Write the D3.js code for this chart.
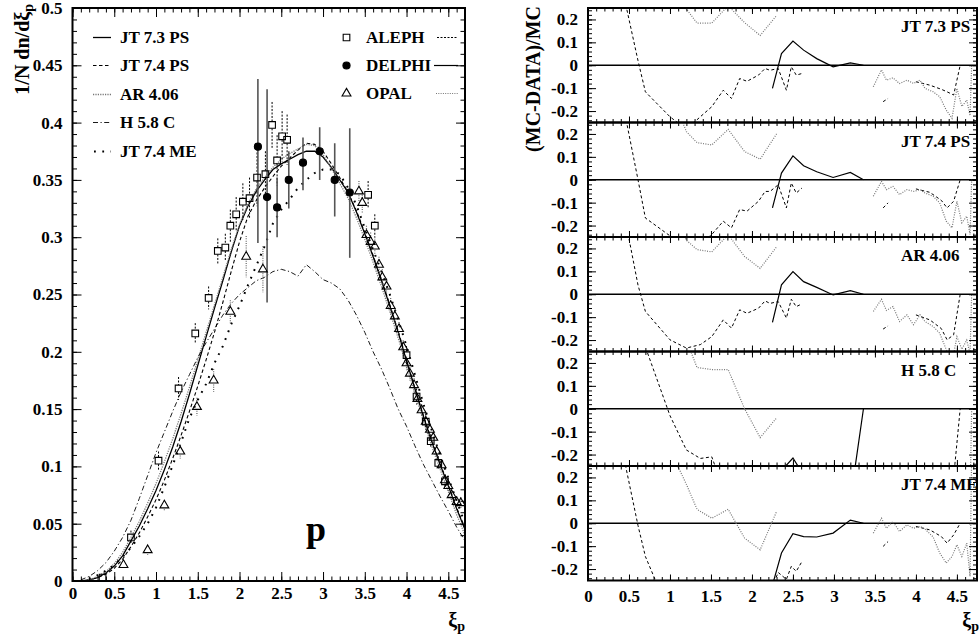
<!DOCTYPE html>
<html><head><meta charset="utf-8">
<script src="https://cdn.jsdelivr.net/npm/d3@7"></script>
<style>
body{margin:0;background:#fff;}
svg text{font-family:"Liberation Serif","Times New Roman",serif;font-weight:bold;fill:#000;}
</style></head><body>
<svg id="c" width="979" height="638"></svg>
<script>
// ---------- LEFT PANEL DATA ----------
const curveXi = [0.1,0.2,0.3,0.4,0.5,0.6,0.7,0.8,0.9,1.0,1.1,1.2,1.3,1.4,1.5,1.6,1.7,1.8,1.9,2.0,2.1,2.2,2.3,2.4,2.5,2.6,2.7,2.8,2.9,3.0,3.1,3.2,3.3,3.4,3.5,3.6,3.7,3.8,3.9,4.0,4.1,4.2,4.3,4.4,4.5,4.6,4.7];
const jt73 = [0,0.001,0.003,0.007,0.013,0.022,0.035,0.048,0.063,0.079,0.097,0.117,0.139,0.163,0.188,0.213,0.238,0.262,0.287,0.31,0.327,0.34,0.35,0.359,0.364,0.368,0.372,0.375,0.375,0.37,0.361,0.35,0.339,0.322,0.303,0.283,0.262,0.24,0.217,0.192,0.168,0.144,0.122,0.102,0.083,0.063,0.045];
const jt74 = [0,0.001,0.003,0.006,0.011,0.019,0.03,0.042,0.056,0.071,0.088,0.107,0.127,0.148,0.17,0.193,0.217,0.243,0.27,0.296,0.318,0.332,0.343,0.353,0.362,0.369,0.376,0.382,0.381,0.375,0.364,0.352,0.339,0.323,0.304,0.284,0.263,0.241,0.218,0.193,0.168,0.145,0.123,0.103,0.084,0.064,0.046];
const ar406 = [0,0.001,0.004,0.008,0.015,0.025,0.038,0.052,0.068,0.085,0.104,0.124,0.146,0.169,0.193,0.217,0.241,0.265,0.289,0.311,0.329,0.342,0.352,0.361,0.368,0.373,0.377,0.381,0.38,0.372,0.36,0.347,0.334,0.317,0.298,0.278,0.257,0.235,0.212,0.188,0.164,0.14,0.118,0.098,0.078,0.058,0.04];
const h58 = [0.001,0.004,0.009,0.016,0.026,0.038,0.053,0.072,0.092,0.112,0.13,0.148,0.165,0.18,0.195,0.208,0.22,0.232,0.242,0.25,0.256,0.262,0.265,0.27,0.272,0.27,0.266,0.276,0.27,0.263,0.26,0.255,0.245,0.232,0.217,0.2,0.185,0.168,0.15,0.135,0.118,0.102,0.088,0.074,0.061,0.047,0.035];
const jt74me = [0,0.002,0.005,0.009,0.014,0.021,0.029,0.039,0.05,0.064,0.082,0.101,0.121,0.142,0.158,0.172,0.19,0.205,0.224,0.24,0.258,0.275,0.292,0.312,0.324,0.333,0.343,0.35,0.356,0.359,0.359,0.355,0.343,0.328,0.308,0.289,0.27,0.25,0.228,0.205,0.18,0.155,0.132,0.11,0.09,0.07,0.05];

const alephXi  = [0.36,0.70,1.03,1.27,1.47,1.63,1.74,1.83,1.89,1.96,2.04,2.12,2.21,2.31,2.39,2.45,2.51,2.57,3.54,3.62,4.0,4.12,4.23,4.29,4.38,4.46];
const alephVal = [0.003,0.038,0.105,0.168,0.216,0.247,0.288,0.291,0.31,0.32,0.331,0.334,0.352,0.355,0.398,0.367,0.388,0.385,0.337,0.31,0.197,0.161,0.139,0.122,0.103,0.087];
const alephErr = [0.003,0.006,0.008,0.01,0.009,0.01,0.011,0.012,0.014,0.015,0.016,0.018,0.025,0.02,0.02,0.022,0.022,0.022,0.012,0.01,0.008,0.007,0.007,0.006,0.006,0.006];

const delphiXi  = [2.22,2.33,2.45,2.59,2.76,2.96,3.14,3.32];
const delphiVal = [0.379,0.335,0.326,0.35,0.365,0.375,0.35,0.339];
const delphiLo  = [0.295,0.243,0.30,0.325,0.341,0.35,0.318,0.282];
const delphiHi  = [0.438,0.429,0.352,0.375,0.387,0.396,0.382,0.395];

const opalXi  = [0.61,0.90,1.10,1.29,1.49,1.69,1.89,2.08,2.28,3.43,3.47,3.52,3.57,3.62,3.67,3.71,3.76,3.81,3.86,3.91,3.96,4.0,4.04,4.09,4.13,4.18,4.23,4.28,4.32,4.36,4.42,4.46,4.5,4.54,4.6,4.65];
const opalVal = [0.014,0.027,0.066,0.113,0.152,0.175,0.235,0.283,0.272,0.34,0.33,0.302,0.296,0.292,0.276,0.265,0.257,0.24,0.231,0.22,0.204,0.19,0.181,0.171,0.159,0.149,0.139,0.132,0.125,0.113,0.101,0.088,0.083,0.075,0.069,0.068];
const opalErr = [0.003,0.004,0.005,0.006,0.008,0.01,0.01,0.018,0.02,0.009,0.009,0.008,0.008,0.008,0.007,0.007,0.007,0.007,0.007,0.006,0.006,0.006,0.006,0.006,0.005,0.005,0.005,0.005,0.005,0.005,0.005,0.005,0.005,0.005,0.005,0.005];

const yTicksLeft = [0,0.05,0.1,0.15,0.2,0.25,0.3,0.35,0.4,0.45,0.5];
const yTickLabelsLeft = ["0","0.05","0.1","0.15","0.2","0.25","0.3","0.35","0.4","0.45","0.5"];
const xTicks = [0,0.5,1,1.5,2,2.5,3,3.5,4,4.5];
const xTickLabels = ["0","0.5","1","1.5","2","2.5","3","3.5","4","4.5"];
const mcNames = ["JT 7.3 PS","JT 7.4 PS","AR 4.06","H 5.8 C","JT 7.4 ME"];
const expNames = ["ALEPH","DELPHI","OPAL"];

// ---------- RIGHT PANEL DATA (MC-DATA)/MC ----------
const rAlephXi = [0.36,0.61,0.70,1.0,1.2,1.37,1.51,1.65,1.75,1.85,1.94,2.08,2.16,2.22,2.32,2.42,2.48,2.54,2.61,3.1,3.6,3.66,3.8,4.0,4.17,4.31,4.38,4.46,4.54];
const rAleph = [
 [0.43,0.02,-0.116,-0.225,-0.28,-0.225,-0.181,-0.109,-0.145,-0.058,-0.07,-0.043,-0.014,-0.022,-0.014,-0.109,-0.007,-0.043,-0.036,null,-0.159,-0.145,null,-0.072,-0.087,-0.105,-0.116,-0.13,0],
 [0.45,0,-0.167,-0.245,-0.3,-0.28,-0.239,-0.181,-0.21,-0.13,-0.137,-0.094,-0.051,-0.051,-0.022,-0.123,-0.014,-0.058,-0.036,null,-0.123,-0.101,null,-0.04,-0.055,-0.09,-0.123,-0.094,0],
 [0.5,0.04,-0.075,-0.199,-0.235,-0.22,-0.185,-0.112,-0.148,-0.068,-0.083,-0.061,-0.029,-0.04,-0.032,-0.104,-0.022,-0.054,-0.042,null,-0.152,-0.138,null,-0.09,-0.112,-0.15,-0.199,-0.177,0],
 [1.0,0.5,0.27,-0.03,-0.18,-0.217,-0.21,-0.35,-0.4,-0.4,-0.4,-0.4,-0.4,-0.4,-0.4,-0.4,-0.4,-0.4,-0.4,null,-0.4,-0.4,null,-0.35,-0.35,-0.35,-0.32,-0.3,0],
 [0.42,-0.01,-0.145,-0.4,-0.4,-0.4,-0.4,-0.4,-0.4,-0.4,-0.4,-0.4,-0.4,-0.3,-0.215,-0.245,-0.188,-0.21,-0.167,null,-0.101,-0.08,null,-0.014,-0.029,-0.058,-0.087,-0.051,0]
];
const rDelphiXi = [2.25,2.36,2.5,2.63,2.79,2.99,3.2,3.36];
const rDelphi = [
 [-0.101,0.051,0.106,0.066,0.029,-0.007,0.01,0],
 [-0.123,0.029,0.104,0.061,0.035,0.01,0.032,0],
 [-0.123,0.041,0.099,0.055,0.03,-0.003,0.016,0],
 [-0.4,-0.27,-0.215,-0.29,-0.35,-0.4,-0.4,0],
 [-0.27,-0.13,-0.046,-0.058,-0.06,-0.043,0.014,0]
];
const rOpalXi = [0.9,1.1,1.2,1.33,1.51,1.71,1.91,2.1,2.3,2.9,3.48,3.58,3.64,3.72,3.8,3.89,3.97,4.05,4.11,4.21,4.29,4.37,4.44,4.5,4.56,4.62,4.66,4.68];
const rOpal = [
 [0.5,0.35,0.246,0.184,0.184,0.26,0.186,0.13,0.217,null,-0.094,-0.02,-0.065,-0.055,-0.08,-0.065,-0.079,-0.065,-0.101,-0.116,-0.137,-0.196,-0.232,-0.101,-0.18,-0.152,-0.22,0],
 [0.45,0.3,0.21,0.162,0.152,0.22,0.123,0.09,0.2,null,-0.072,-0.007,-0.043,-0.029,-0.065,-0.043,-0.051,-0.043,-0.058,-0.072,-0.101,-0.181,-0.21,-0.094,-0.188,-0.159,-0.239,0],
 [0.45,0.3,0.236,0.195,0.185,0.26,0.165,0.113,0.207,null,-0.075,-0.022,-0.071,-0.054,-0.119,-0.09,-0.133,-0.09,-0.119,-0.141,-0.17,-0.242,-0.3,-0.185,-0.24,-0.2,-0.26,0],
 [0.6,0.4,0.3,0.18,0.171,0.171,0.0,-0.126,-0.04,null,-0.4,-0.4,-0.4,-0.4,-0.4,-0.4,-0.4,-0.4,-0.4,-0.4,-0.4,-0.4,-0.4,-0.4,-0.4,-0.4,-0.4,0],
 [0.5,0.246,0.17,0.061,0.022,0.061,-0.065,-0.116,0.051,null,-0.043,0.022,-0.022,0.007,-0.036,-0.007,-0.022,-0.014,-0.025,-0.06,-0.13,-0.174,-0.145,-0.094,-0.145,-0.087,-0.232,0.3]
];
const rYTicks = [-0.2,-0.1,0,0.1,0.2];
const rYTickLabels = ["-0.2","-0.1","0","0.1","0.2"];

// ---------- DRAWING ----------
const svg = d3.select("#c");
const defs = svg.append("defs");

// styles
const curveStyles = [
  {data: jt73, dash: null, color: "#000", w: 1.3},
  {data: jt74, dash: "3.5,2.5", color: "#000", w: 1.1},
  {data: ar406, dash: "1.2,1.2", color: "#777", w: 1.3},
  {data: h58, dash: "5,2.5,1.2,2.5", color: "#000", w: 0.9},
  {data: jt74me, dash: "1.8,6.5", color: "#000", w: 2}
];

// LEFT
const L = {x0: 72.5, x1: 465, y0: 8, y1: 581};
const xL = d3.scaleLinear().domain([0, 4.7]).range([L.x0, L.x1]);
const yL = d3.scaleLinear().domain([0, 0.5]).range([L.y1, L.y0]);

defs.append("clipPath").attr("id","clipL").append("rect")
  .attr("x", L.x0).attr("y", L.y0).attr("width", L.x1-L.x0).attr("height", L.y1-L.y0);

const gL = svg.append("g");
const plotL = gL.append("g").attr("clip-path","url(#clipL)");

const lineL = d3.line().x(d => xL(d[0])).y(d => yL(d[1]));
curveStyles.forEach(s => {
  plotL.append("path")
    .attr("d", lineL(curveXi.map((x,i) => [x, s.data[i]])))
    .attr("fill","none").attr("stroke", s.color).attr("stroke-width", s.w)
    .attr("stroke-dasharray", s.dash);
});

// error bars & markers
function vbar(g, x, yv, lo, hi, gap, style) {
  const px = xL(x), py = yL(yv);
  const a = g.append("g").attr("stroke", style.color).attr("stroke-width", style.w)
    .attr("stroke-dasharray", style.dash);
  if (yL(hi) < py - gap) a.append("line").attr("x1",px).attr("x2",px).attr("y1",yL(hi)).attr("y2",py-gap);
  if (yL(lo) > py + gap) a.append("line").attr("x1",px).attr("x2",px).attr("y1",py+gap).attr("y2",yL(lo));
}
const barsG = plotL.append("g");
const markG = plotL.append("g");
opalXi.forEach((x,i) => vbar(barsG, x, opalVal[i], opalVal[i]-opalErr[i], opalVal[i]+opalErr[i], 4, {color:"#666", w:1.2, dash:"1,1.3"}));
alephXi.forEach((x,i) => vbar(barsG, x, alephVal[i], alephVal[i]-alephErr[i], alephVal[i]+alephErr[i], 3.5, {color:"#000", w:1, dash:"2,1.5"}));
delphiXi.forEach((x,i) => vbar(barsG, x, delphiVal[i], delphiLo[i], delphiHi[i], 3, {color:"#555", w:1.6, dash:null}));

const sq = d3.symbol().type(d3.symbolSquare).size(44);
const tri = d3.symbol().type(d3.symbolTriangle).size(34);
const circ = d3.symbol().type(d3.symbolCircle).size(40);
function marker(g, sym, x, y, filled) {
  g.append("path").attr("d", sym()).attr("transform", `translate(${x},${y})`)
    .attr("fill", filled ? "#000" : "#fff").attr("fill-opacity", filled ? 1 : 0)
    .attr("stroke","#000").attr("stroke-width",1.1);
}
alephXi.forEach((x,i) => marker(markG, sq, xL(x), yL(alephVal[i]), false));
opalXi.forEach((x,i) => marker(markG, tri, xL(x), yL(opalVal[i]), false));
delphiXi.forEach((x,i) => marker(markG, circ, xL(x), yL(delphiVal[i]), true));

// axes left
function noDomain(g){ g.select(".domain").remove(); }
const yMinorL = d3.range(0, 0.5001, 0.01);
const xMinor = d3.range(0, 4.701, 0.1);
gL.append("g").attr("transform",`translate(${L.x0},0)`)
  .call(d3.axisLeft(yL).tickValues(yMinorL).tickSize(-4.5).tickFormat(""))
  .call(noDomain);
gL.append("g").attr("transform",`translate(${L.x0},0)`)
  .call(d3.axisLeft(yL).tickValues(yTicksLeft).tickSize(-9).tickPadding(10)
        .tickFormat((d,i) => yTickLabelsLeft[i]))
  .call(noDomain)
  .call(g => g.selectAll("text").attr("font-size",17).attr("font-family",null));
gL.append("g").attr("transform",`translate(${L.x1},0)`)
  .call(d3.axisRight(yL).tickValues(yMinorL).tickSize(-4.5).tickFormat("")).call(noDomain);
gL.append("g").attr("transform",`translate(${L.x1},0)`)
  .call(d3.axisRight(yL).tickValues(yTicksLeft).tickSize(-9).tickFormat("")).call(noDomain);
gL.append("g").attr("transform",`translate(0,${L.y1})`)
  .call(d3.axisBottom(xL).tickValues(xMinor).tickSize(-4.5).tickFormat("")).call(noDomain);
gL.append("g").attr("transform",`translate(0,${L.y1})`)
  .call(d3.axisBottom(xL).tickValues(xTicks).tickSize(-9).tickPadding(6)
        .tickFormat((d,i) => xTickLabels[i]))
  .call(noDomain)
  .call(g => g.selectAll("text").attr("font-size",17).attr("font-family",null));
gL.append("g").attr("transform",`translate(0,${L.y0})`)
  .call(d3.axisTop(xL).tickValues(xMinor).tickSize(-4.5).tickFormat("")).call(noDomain);
gL.append("g").attr("transform",`translate(0,${L.y0})`)
  .call(d3.axisTop(xL).tickValues(xTicks).tickSize(-9).tickFormat("")).call(noDomain);
gL.selectAll(".tick line").attr("stroke","#000").attr("stroke-width",1);
gL.append("rect").attr("x",L.x0).attr("y",L.y0).attr("width",L.x1-L.x0).attr("height",L.y1-L.y0)
  .attr("fill","none").attr("stroke","#000").attr("stroke-width",2);

// left legend (MC)
const legRowsY = [43, 71, 100, 128, 157];
mcNames.forEach((n,i) => {
  const s = curveStyles[i];
  const ly = legRowsY[i] - 5.5;
  gL.append("line").attr("x1", i===4 ? 94 : 93).attr("x2", 111).attr("y1", ly).attr("y2", ly)
    .attr("stroke", s.color).attr("stroke-width", s.w).attr("stroke-dasharray", s.dash);
  gL.append("text").attr("x",120).attr("y",legRowsY[i]).attr("font-size",17).text(n);
});
// right legend (experiments)
const expRowsY = [43, 71, 99];
const expSyms = [sq, circ, tri];
const expLine = [{dash:"2,1.5",color:"#000",w:1,x1:437},{dash:null,color:"#000",w:1.2,x1:434},{dash:"1,1.3",color:"#777",w:1.2,x1:436}];
expNames.forEach((n,i) => {
  const ly = expRowsY[i] - 5.5;
  marker(gL, expSyms[i], 346.5, ly, i===1);
  gL.append("text").attr("x",366).attr("y",expRowsY[i]).attr("font-size",17).text(n);
  gL.append("line").attr("x1",expLine[i].x1).attr("x2",458).attr("y1",ly).attr("y2",ly)
    .attr("stroke",expLine[i].color).attr("stroke-width",expLine[i].w).attr("stroke-dasharray",expLine[i].dash);
});
gL.append("text").attr("x",316).attr("y",541).attr("font-size",36).attr("text-anchor","middle").text("p");

// left titles
const ytl = gL.append("text").attr("transform","translate(29,4) rotate(-90)")
  .attr("text-anchor","end").attr("font-size",20);
ytl.append("tspan").text("1/N dn/dξ");
ytl.append("tspan").attr("font-size",14).attr("dy",4).text("p");
const xtl = gL.append("text").attr("x",465).attr("y",627).attr("text-anchor","end").attr("font-size",20);
xtl.append("tspan").text("ξ");
xtl.append("tspan").attr("font-size",14).attr("dy",4).text("p");

// RIGHT
const R = {x0: 588, x1: 977, y0: 8, y1: 580.5};
const xR = d3.scaleLinear().domain([0, 4.745]).range([R.x0, R.x1]);
const ph = (R.y1 - R.y0) / 5;
const gR = svg.append("g");
const rStyles = [
  {dash:"3,2.5", color:"#000", w:1},
  {dash:null, color:"#000", w:1.2},
  {dash:"1,1.4", color:"#777", w:1.2}
];
const xMinorR = d3.range(0, 4.745, 0.1);
const rYMinor = d3.range(-0.24, 0.2401, 0.02);
for (let p = 0; p < 5; p++) {
  const top = R.y0 + p*ph, bot = top + ph;
  const yR = d3.scaleLinear().domain([-0.25, 0.25]).range([bot, top]);
  const cid = "clipR" + p;
  defs.append("clipPath").attr("id",cid).append("rect")
    .attr("x",R.x0).attr("y",top).attr("width",R.x1-R.x0).attr("height",ph);
  const g = gR.append("g");
  const pl = g.append("g").attr("clip-path",`url(#${cid})`);
  const ln = d3.line().defined(d => d[1] !== null).x(d => xR(d[0])).y(d => yR(d[1]));
  pl.append("line").attr("x1",R.x0).attr("x2",R.x1).attr("y1",yR(0)).attr("y2",yR(0))
    .attr("stroke","#000").attr("stroke-width",1.5);
  [[rAlephXi, rAleph[p]], [rDelphiXi, rDelphi[p]], [rOpalXi, rOpal[p]]].forEach((s, k) => {
    pl.append("path").attr("d", ln(s[0].map((x,i) => [x, s[1][i]])))
      .attr("fill","none").attr("stroke",rStyles[k].color).attr("stroke-width",rStyles[k].w)
      .attr("stroke-dasharray",rStyles[k].dash);
  });
  // axes
  g.append("g").attr("transform",`translate(${R.x0},0)`)
    .call(d3.axisLeft(yR).tickValues(rYMinor).tickSize(-4).tickFormat("")).call(noDomain);
  g.append("g").attr("transform",`translate(${R.x0},0)`)
    .call(d3.axisLeft(yR).tickValues(rYTicks).tickSize(-8).tickPadding(10)
      .tickFormat((d,i) => rYTickLabels[i]))
    .call(noDomain)
    .call(gg => gg.selectAll("text").attr("font-size",17).attr("font-family",null));
  g.append("g").attr("transform",`translate(${R.x1},0)`)
    .call(d3.axisRight(yR).tickValues(rYMinor).tickSize(-4).tickFormat("")).call(noDomain);
  g.append("g").attr("transform",`translate(${R.x1},0)`)
    .call(d3.axisRight(yR).tickValues(rYTicks).tickSize(-8).tickFormat("")).call(noDomain);
  g.append("g").attr("transform",`translate(0,${bot})`)
    .call(d3.axisBottom(xR).tickValues(xMinorR).tickSize(-3.5).tickFormat("")).call(noDomain);
  g.append("g").attr("transform",`translate(0,${top})`)
    .call(d3.axisTop(xR).tickValues(xMinorR).tickSize(-3.5).tickFormat("")).call(noDomain);
  g.append("g").attr("transform",`translate(0,${top})`)
    .call(d3.axisTop(xR).tickValues(xTicks).tickSize(-6).tickFormat("")).call(noDomain);
  if (p === 4) {
    g.append("g").attr("transform",`translate(0,${bot})`)
      .call(d3.axisBottom(xR).tickValues(xTicks).tickSize(-6).tickPadding(9)
        .tickFormat((d,i) => xTickLabels[i]))
      .call(noDomain)
      .call(gg => gg.selectAll("text").attr("font-size",17).attr("font-family",null));
  } else {
    g.append("g").attr("transform",`translate(0,${bot})`)
      .call(d3.axisBottom(xR).tickValues(xTicks).tickSize(-6).tickFormat("")).call(noDomain);
  }
  g.selectAll(".tick line").attr("stroke","#000");
  g.append("rect").attr("x",R.x0).attr("y",top).attr("width",R.x1-R.x0).attr("height",ph)
    .attr("fill","none").attr("stroke","#000").attr("stroke-width",2);
  g.append("text").attr("x",901).attr("y",top+24).attr("font-size",17).text(mcNames[p]);
}
const ytr = gR.append("text").attr("transform","translate(540,6) rotate(-90)")
  .attr("text-anchor","end").attr("font-size",20).text("(MC-DATA)/MC");
const xtr = gR.append("text").attr("x",979).attr("y",627).attr("text-anchor","end").attr("font-size",20);
xtr.append("tspan").text("ξ");
xtr.append("tspan").attr("font-size",14).attr("dy",4).text("p");
</script></body></html>
